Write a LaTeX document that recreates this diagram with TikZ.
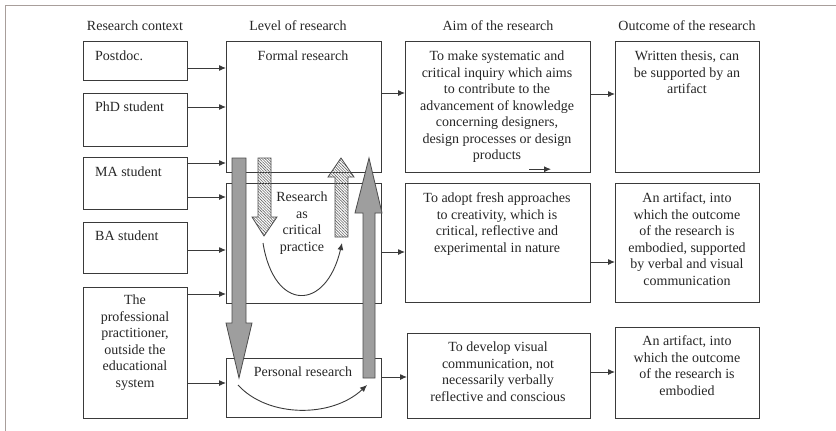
\documentclass[tikz,border=0pt]{standalone}
\usepackage{fontspec}
\setmainfont{Liberation Serif}
\usetikzlibrary{arrows.meta,patterns.meta}

\definecolor{framegray}{RGB}{168,158,155}
\definecolor{linegray}{RGB}{58,58,58}
\definecolor{inkgray}{RGB}{38,38,38}
\definecolor{arrowgray}{RGB}{158,158,158}

% horizontal connector between two boxes at a given height
\newcommand\hconn[3]{\draw[conn] (#1.east |- 0,#3) -- (#2.west |- 0,#3);}

\begin{document}
\begin{tikzpicture}[x=1pt,y=-1pt,
  frame/.style={draw=framegray, line width=1pt},
  box/.style={draw=linegray, line width=1.2pt, inner sep=0pt, anchor=north west},
  txt/.style={inner sep=0pt, text=inkgray, font=\fontsize{14}{16.5}\selectfont, align=center, anchor=north},
  head/.style={inner sep=0pt, text=inkgray, font=\fontsize{14}{16.5}\selectfont, anchor=base},
  ltxt/.style={inner sep=0pt, text=inkgray, font=\fontsize{14}{16.5}\selectfont, anchor=base west},
  conn/.style={draw=linegray, line width=1pt, -{Latex[length=7pt,width=6pt]}},
  loop/.style={draw=linegray, line width=0.9pt, -{Latex[length=7pt,width=6pt]}},
  solidarrow/.style={draw=black!70, line width=0.8pt, fill=arrowgray},
  hatcharrow/.style={draw=black!70, line width=0.8pt,
    pattern={Lines[angle=-45,distance=2pt,line width=0.6pt]}, pattern color=black!60},
]
\useasboundingbox (0,0) rectangle (836,431);

% page frame
\draw[frame] (5,431) -- (5,5) -- (836,5);

% column headings
\node[head] (hctx) at (135,30.5) {Research context};
\node[head] (hlvl) at (298,30.5) {Level of research};
\node[head] (haim) at (498,30.5) {Aim of the research};
\node[head] (hout) at (687,30.5) {Outcome of the research};

% research context
\node[box, minimum width=104pt, minimum height=39pt] (postdoc) at (83,41) {};
\node[box, minimum width=104pt, minimum height=53pt] (phd) at (83,93) {};
\node[box, minimum width=104pt, minimum height=52pt] (ma) at (83,157) {};
\node[box, minimum width=104pt, minimum height=51pt] (ba) at (83,222) {};
\node[box, minimum width=104pt, minimum height=131pt] (prof) at (83,287) {};
\node[ltxt] at (95,60.5) {Postdoc.};
\node[ltxt] at (95,111.5) {PhD student};
\node[ltxt] at (95,176.5) {MA student};
\node[ltxt] at (95,240.5) {BA student};
\node[txt] at (135,294.7) {The\\professional\\practitioner,\\outside the\\educational\\system};

% level of research
\node[box, minimum width=155pt, minimum height=131pt] (formal) at (226,41) {};
\node[box, minimum width=155pt, minimum height=120pt] (critical) at (226,183) {};
\node[box, minimum width=155pt, minimum height=59pt] (personal) at (226,358) {};
\node[txt] at (303,50.7) {Formal research};
\node[txt] at (302,191.7) {Research\\as\\critical\\practice};
\node[txt] at (303,366.7) {Personal research};

% aim of the research
\node[box, minimum width=185pt, minimum height=131pt] (aim1) at (405,41) {};
\node[box, minimum width=185pt, minimum height=119pt] (aim2) at (405,183) {};
\node[box, minimum width=183pt, minimum height=85pt] (aim3) at (407,333) {};
\node[txt] at (497,50.7) {To make systematic and\\critical inquiry which aims\\to contribute to the\\advancement of knowledge\\concerning designers,\\design processes or design\\products};
\node[txt] at (497,192.7) {To adopt fresh approaches\\to creativity, which is\\critical, reflective and\\experimental in nature};
\node[txt] at (498,341.7) {To develop visual\\communication, not\\necessarily verbally\\reflective and conscious};

% outcome of the research
\node[box, minimum width=144pt, minimum height=131pt] (out1) at (615,41) {};
\node[box, minimum width=144pt, minimum height=119pt] (out2) at (615,183) {};
\node[box, minimum width=144pt, minimum height=91pt] (out3) at (615,327) {};
\node[txt] at (687,50.7) {Written thesis, can\\be supported by an\\artifact};
\node[txt] at (687,192.7) {An artifact, into\\which the outcome\\of the research is\\embodied, supported\\by verbal and visual\\communication};
\node[txt] at (687,335.7) {An artifact, into\\which the outcome\\of the research is\\embodied};

% connectors
\hconn{postdoc}{formal}{68}
\hconn{phd}{formal}{107}
\hconn{ma}{formal}{163}
\hconn{ma}{critical}{197}
\hconn{ba}{critical}{250}
\hconn{prof}{critical}{294}
\hconn{prof}{personal}{383}
\hconn{formal}{aim1}{93}
\hconn{critical}{aim2}{252}
\hconn{personal}{aim3}{377}
\hconn{aim1}{out1}{94}
\hconn{aim2}{out2}{262}
\hconn{aim3}{out3}{372}
\draw[conn] ([xshift=31pt,yshift=4pt]aim1.south) -- ([xshift=53pt,yshift=4pt]aim1.south);

% cycles inside the levels
\draw[loop] (263,243) .. controls (274,312) and (326,312) .. (342,243);
\draw[loop] (238,385) .. controls (268,418) and (332,418) .. (367,385);

% movement between levels
\path[solidarrow] (232,158) -- (246,158) -- (246,323) -- (252,323) -- (239,378)
  -- (226,323) -- (232,323) -- cycle;
\path[hatcharrow] (258,158) -- (271,158) -- (271,217) -- (277,217) -- (264,236)
  -- (252,217) -- (258,217) -- cycle;
\path[hatcharrow] (335,237) -- (348,237) -- (348,177) -- (354,177) -- (341,158)
  -- (328,177) -- (335,177) -- cycle;
\path[solidarrow] (363,378) -- (375,378) -- (375,213) -- (382,213) -- (369,158)
  -- (355,213) -- (363,213) -- cycle;
\end{tikzpicture}
\end{document}
